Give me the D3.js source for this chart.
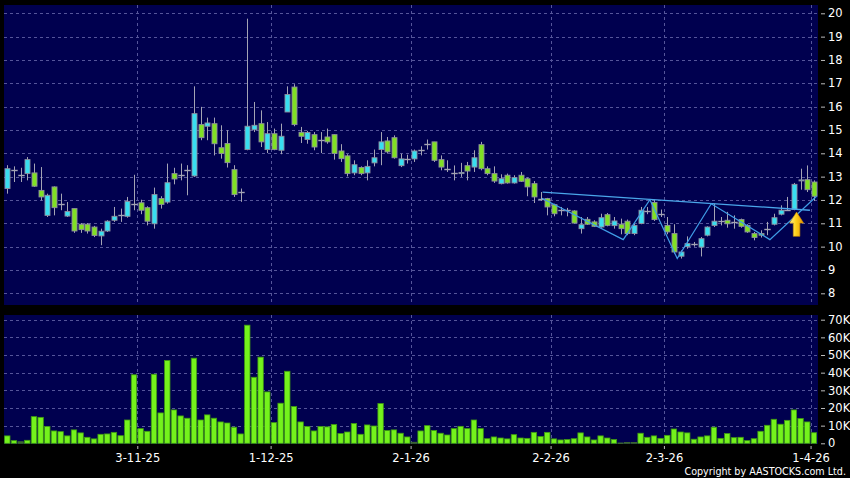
<!DOCTYPE html>
<html><head><meta charset="utf-8">
<script src="https://cdn.jsdelivr.net/npm/d3@7"></script>
<style>html,body{margin:0;padding:0;background:#000;}svg{display:block}</style>
</head><body>
<svg id="c" width="850" height="478"></svg>
<script>
// ---- DATA ----
const opens = [12.49,13.27,13.06,13.13,13.16,12.41,11.34,12.56,11.81,11.31,11.63,10.96,10.96,10.84,10.46,10.67,11.13,11.34,11.30,11.81,
11.88,11.67,10.98,12.06,11.91,13.13,13.06,13.27,13.03,15.23,15.16,15.27,14.24,14.42,13.30,12.36,14.16,15.01,15.27,14.16,
14.84,14.13,15.77,16.84,14.90,14.59,14.80,14.59,14.70,14.80,14.10,13.89,13.16,13.39,13.16,13.59,14.16,14.53,14.67,13.47,
13.76,13.76,14.16,14.41,14.49,13.73,13.34,13.16,13.13,13.47,13.41,14.37,13.34,13.13,12.70,13.06,12.73,13.06,12.91,12.70,
12.06,12.06,11.80,11.59,11.56,11.53,10.77,11.17,11.06,10.84,11.37,10.90,10.96,11.09,10.56,10.99,11.51,11.89,11.41,10.91,
10.56,9.59,10.00,10.10,9.98,10.49,10.91,11.10,11.13,11.06,11.16,10.91,10.56,10.56,10.74,10.96,11.39,11.58,11.59,12.82,
12.87,12.77];
const closes = [13.34,13.27,13.06,13.73,12.59,12.13,12.20,11.67,11.81,11.51,10.67,10.73,10.67,10.48,10.66,11.09,11.30,11.34,11.94,11.81,
11.56,11.09,12.23,11.81,12.74,12.90,13.06,13.27,15.70,14.67,15.30,14.41,13.99,13.60,12.23,12.36,15.16,15.20,14.49,14.84,
14.16,14.73,16.52,15.23,14.73,14.89,14.27,14.59,14.49,13.99,13.77,13.13,13.51,13.13,13.44,13.81,14.49,14.06,13.81,13.76,
13.76,14.10,14.16,14.41,13.70,13.41,13.34,13.16,13.18,13.24,13.81,13.34,13.13,12.81,12.91,12.73,12.96,12.80,12.56,12.13,
12.06,11.70,11.41,11.59,11.56,11.01,10.94,10.96,10.87,11.24,10.91,11.10,10.77,10.56,10.91,11.56,11.51,11.16,11.41,10.63,
9.77,9.77,10.13,10.10,10.34,10.84,11.09,11.10,10.98,11.06,10.87,10.63,10.39,10.49,10.74,11.24,11.56,11.58,12.67,12.86,
12.44,12.16];
const highs = [13.49,13.44,13.38,13.84,13.56,13.41,12.27,12.58,12.27,11.91,11.63,11.01,11.01,10.89,10.77,11.13,11.70,11.63,12.13,13.08,
12.01,11.73,12.53,12.16,13.56,13.38,13.56,13.49,16.87,15.99,15.53,15.53,15.20,14.99,13.49,12.49,19.77,16.20,15.84,15.34,
15.06,15.27,16.87,16.96,15.13,14.96,14.91,14.91,15.06,14.81,14.39,13.96,13.70,13.44,13.70,14.16,14.91,14.70,14.77,13.98,
13.94,14.16,14.30,14.59,14.49,13.91,13.70,13.48,13.59,13.63,14.13,14.49,13.44,13.44,13.10,13.13,13.06,13.20,12.96,12.81,
12.34,12.09,11.84,11.70,11.66,11.56,11.27,11.27,11.13,11.41,11.44,11.27,11.20,11.16,10.99,11.70,11.70,12.01,11.59,11.27,
10.96,9.84,10.44,10.20,10.41,10.87,11.84,11.27,11.49,11.34,11.20,10.96,10.63,10.70,11.06,11.41,11.77,12.13,12.73,13.34,
13.48,12.84];
const lows = [12.27,12.77,12.77,12.84,12.56,11.98,11.27,11.34,11.56,11.27,10.59,10.59,10.56,10.41,10.06,10.63,11.06,11.06,11.24,11.56,
11.39,10.91,10.77,11.63,11.84,12.67,12.84,12.20,12.99,14.56,14.56,13.91,13.77,13.39,12.13,11.92,14.13,14.91,14.27,14.01,
14.13,13.96,15.77,15.16,14.44,14.41,14.13,14.01,14.41,13.73,13.63,13.01,13.06,13.06,12.84,13.44,13.49,13.99,13.77,13.41,
13.56,13.63,13.91,14.16,13.63,13.27,13.20,12.84,12.99,12.84,13.20,13.27,13.06,12.73,12.67,12.70,12.70,12.77,12.16,11.87,
11.96,11.34,11.30,11.34,11.30,10.99,10.56,10.93,10.84,10.81,10.87,10.77,10.53,10.49,10.49,10.96,11.39,11.10,11.27,10.53,
9.70,9.49,9.91,10.00,9.58,10.44,10.84,10.91,10.81,10.77,10.81,10.59,10.27,10.39,10.49,10.91,11.34,11.53,11.56,12.44,
12.34,11.96];
// volume in thousands of shares
const volumes = [4.2,1.5,0.9,1.7,15.1,14.7,9.5,7.0,6.6,4.2,7.6,5.9,3.4,2.5,5.1,5.3,6.2,4.3,13.2,38.8,
8.3,6.8,39.1,17.2,46.9,18.9,15.5,14.2,48.2,13.2,16.1,14.2,12.1,11.5,9.1,5.3,66.9,37.4,48.8,29.1,
11.7,22.7,40.8,20.8,12.1,9.5,7.0,9.5,9.3,10.6,5.5,6.4,11.2,5.1,10.4,9.8,22.5,7.2,7.6,5.7,
3.6,0.6,7.0,10.0,7.2,5.7,4.7,8.3,9.6,8.3,13.2,8.3,2.6,3.6,3.0,2.5,4.9,3.0,2.8,6.2,
3.8,6.2,2.5,1.9,2.1,2.6,5.9,3.6,1.9,4.2,3.0,2.1,0.2,0.4,0.4,5.7,3.4,4.2,2.8,4.5,
8.1,6.4,5.9,2.3,3.6,4.2,9.1,2.8,5.5,3.2,3.4,1.5,2.6,6.8,10.2,13.6,10.8,13.0,18.9,14.0,
12.1,6.0];
// month boundaries (candle index) and their labels
const xTickIdx = [19.5, 39.5, 60.5, 81.5, 98.5, 120.5];
const xTickLabels = ["3-11-25","1-12-25","2-1-26","2-2-26","2-3-26","1-4-26"];
const priceTicks = [8,9,10,11,12,13,14,15,16,17,18,19,20];
const volTicks = [0,10,20,30,40,50,60,70];
// drawn annotations: [candle index, price]
const resistanceLine = [[80.3,12.34],[120.4,11.56]];
const zigzagLine = [[80.2,12.07],[92.4,10.30],[96.4,12.01],[100.5,9.49],[105.6,11.84],[114.4,10.30],[121.4,12.16]];
const arrowMark = {idx:118.4, tip:11.48, base:10.44};

// ---- CHART ----
const svg = d3.select('#c');
const FONT = "'DejaVu Sans', Verdana, sans-serif";
const BG = '#00004f';
const GRID = '#55559a';

const x = d3.scaleLinear().domain([0,121]).range([7.3, 813.9]);
const yP = d3.scaleLinear().domain([8,20]).range([293.3, 13.3]);
const yV = d3.scaleLinear().domain([0,70]).range([443.3, 319.7]);

svg.append('rect').attr('width',850).attr('height',478).attr('fill','#000');
svg.append('rect').attr('x',4).attr('y',5).attr('width',814).attr('height',300).attr('fill',BG);
svg.append('rect').attr('x',4).attr('y',315).attr('width',814).attr('height',129).attr('fill',BG);

// grid
const g = svg.append('g').attr('stroke',GRID).attr('stroke-width',1).attr('stroke-dasharray','3,3');
priceTicks.forEach(p=>{
  const yy = Math.round(yP(p))+0.5;
  g.append('line').attr('x1',4).attr('x2',818).attr('y1',yy).attr('y2',yy);
});
volTicks.filter(v=>v>0).forEach(v=>{
  const yy = Math.round(yV(v))+0.5;
  g.append('line').attr('x1',4).attr('x2',818).attr('y1',yy).attr('y2',yy);
});
xTickIdx.forEach(t=>{
  const xx = Math.round(x(t))+0.5;
  g.append('line').attr('x1',xx).attr('x2',xx).attr('y1',5).attr('y2',305);
  g.append('line').attr('x1',xx).attr('x2',xx).attr('y1',315).attr('y2',444);
});

// volume bars
const bw = 5.4;
svg.append('g').selectAll('rect').data(volumes).join('rect')
  .attr('x',(d,i)=>x(i)-bw/2).attr('width',bw)
  .attr('y',d=>yV(d)).attr('height',d=>Math.max(0.6,yV(0)-yV(d)))
  .attr('fill',d=>d<1?'#3d6a30':'#74f21c').attr('stroke',d=>d<1?'#3d6a30':'#3f9a12').attr('stroke-width',0.8);

// candles
const candles = opens.map((o,i)=>({i,o,c:closes[i],h:highs[i],l:lows[i]}));
const cg = svg.append('g');
cg.selectAll('line.wick').data(candles).join('line').attr('class','wick')
  .attr('x1',d=>Math.round(x(d.i))+0.5).attr('x2',d=>Math.round(x(d.i))+0.5)
  .attr('y1',d=>yP(d.h)).attr('y2',d=>yP(d.l))
  .attr('stroke','#a4a4b4').attr('stroke-width',1);
const cw = 5;
cg.selectAll('rect.body').data(candles.filter(d=>d.o!==d.c)).join('rect').attr('class','body')
  .attr('x',d=>Math.round(x(d.i))+0.5-cw/2).attr('width',cw)
  .attr('y',d=>yP(Math.max(d.o,d.c))).attr('height',d=>Math.max(1,Math.abs(yP(d.o)-yP(d.c))))
  .attr('fill',d=>d.c>d.o?'#38def0':'#80e024')
  .attr('stroke','#8e8e9e').attr('stroke-width',0.9);
cg.selectAll('line.doji').data(candles.filter(d=>d.o===d.c)).join('line').attr('class','doji')
  .attr('x1',d=>Math.round(x(d.i))+0.5-3.2).attr('x2',d=>Math.round(x(d.i))+0.5+3.2)
  .attr('y1',d=>Math.round(yP(d.c))+0.5).attr('y2',d=>Math.round(yP(d.c))+0.5)
  .attr('stroke','#a4a4b4').attr('stroke-width',1.4);

// annotation lines
const line = d3.line().x(d=>x(d[0])).y(d=>yP(d[1]));
svg.append('path').attr('d',line(resistanceLine)).attr('fill','none').attr('stroke','#4aa6ea').attr('stroke-width',1.3);
svg.append('path').attr('d',line(zigzagLine)).attr('fill','none').attr('stroke','#3f9ce6').attr('stroke-width',1.2);

// arrow
const defs = svg.append('defs');
const grad = defs.append('linearGradient').attr('id','ag').attr('x1','0').attr('x2','1').attr('y1','0').attr('y2','0');
grad.append('stop').attr('offset','0').attr('stop-color','#fff39a');
grad.append('stop').attr('offset','0.45').attr('stop-color','#ffd21a');
grad.append('stop').attr('offset','1').attr('stop-color','#e69200');
const ax = x(arrowMark.idx), ayT = yP(arrowMark.tip), ayB = yP(arrowMark.base);
const ayH = ayT + 11;
svg.append('path')
  .attr('d',`M${ax},${ayT} L${ax+7},${ayH} L${ax+3.3},${ayH} L${ax+3.3},${ayB} L${ax-3.3},${ayB} L${ax-3.3},${ayH} L${ax-7},${ayH} Z`)
  .attr('fill','url(#ag)').attr('stroke','#c98a00').attr('stroke-width',0.6);

// axes
function styleAxis(sel, size){
  sel.select('.domain').remove();
  sel.selectAll('line').attr('stroke','#bbbbbb');
  sel.selectAll('text').attr('fill','#ffffff').style('font-family',FONT).style('font-size',size+'px');
}
svg.append('g').attr('transform','translate(821,0)')
  .call(d3.axisRight(yP).tickValues(priceTicks).tickSize(4).tickPadding(3).tickFormat(d3.format('d')))
  .call(s=>styleAxis(s,11.5));
svg.append('g').attr('transform','translate(821,0)')
  .call(d3.axisRight(yV).tickValues(volTicks).tickSize(4).tickPadding(3).tickFormat(d=>d===0?'0':d+'K'))
  .call(s=>styleAxis(s,11.5));
svg.append('g').attr('transform','translate(0,446)')
  .call(d3.axisBottom(x).tickValues(xTickIdx).tickSize(3).tickPadding(5).tickFormat((d,i)=>xTickLabels[i]))
  .call(s=>styleAxis(s,11.5));

svg.append('text').attr('x',846).attr('y',475).attr('text-anchor','end')
  .attr('fill','#ffffff').style('font-family',FONT).style('font-size','9.6px')
  .text('Copyright by AASTOCKS.com Ltd.');
</script>
</body></html>
